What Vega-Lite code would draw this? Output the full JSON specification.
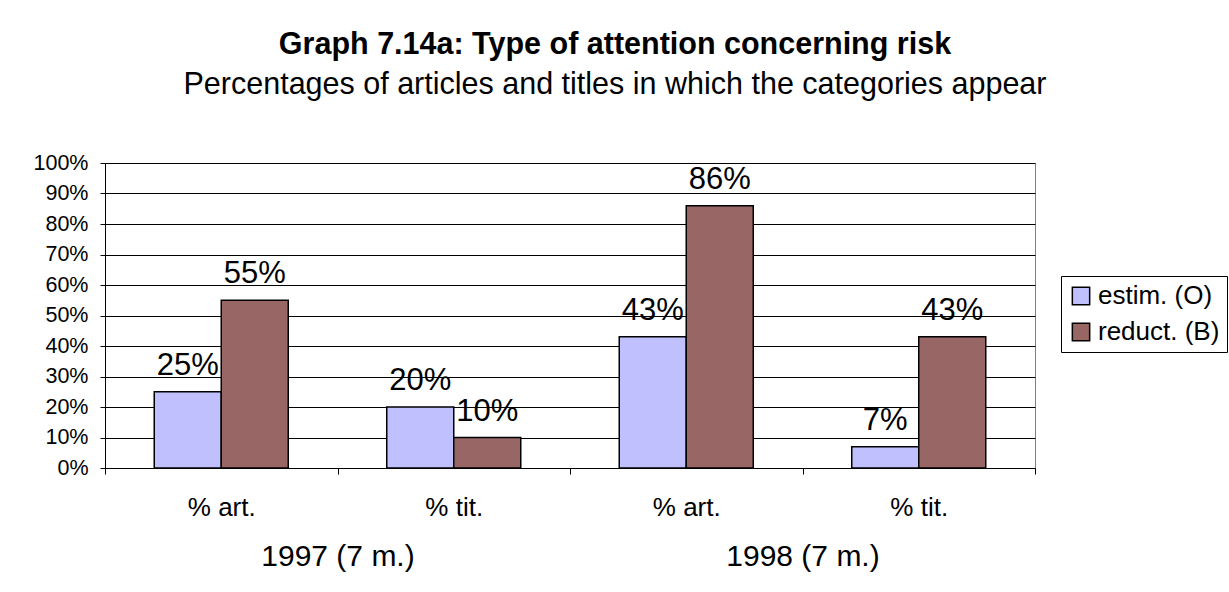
{
  "$schema": "https://vega.github.io/schema/vega-lite/v6.json",
  "autosize": {"type": "none"},
  "width": 930,
  "height": 305,
  "padding": {"left": 105, "top": 163, "right": 194, "bottom": 124},
  "background": "white",
  "title": {
    "text": "Graph 7.14a: Type of attention concerning risk",
    "subtitle": "Percentages of articles and titles in which the categories appear",
    "anchor": "middle",
    "frame": "group",
    "dx": 45,
    "offset": 52,
    "font": "Liberation Sans",
    "fontSize": 30.5,
    "fontWeight": "bold",
    "color": "#000",
    "subtitleFont": "Liberation Sans",
    "subtitleFontSize": 30.5,
    "subtitleColor": "#000",
    "subtitlePadding": 9
  },
  "data": {
    "values": [
      {"cat": "1997|% art.", "year": "1997 (7 m.)", "series": "estim. (O)", "value": 0.25},
      {"cat": "1997|% art.", "year": "1997 (7 m.)", "series": "reduct. (B)", "value": 0.55},
      {"cat": "1997|% tit.", "year": "1997 (7 m.)", "series": "estim. (O)", "value": 0.20},
      {"cat": "1997|% tit.", "year": "1997 (7 m.)", "series": "reduct. (B)", "value": 0.10},
      {"cat": "1998|% art.", "year": "1998 (7 m.)", "series": "estim. (O)", "value": 0.43},
      {"cat": "1998|% art.", "year": "1998 (7 m.)", "series": "reduct. (B)", "value": 0.86},
      {"cat": "1998|% tit.", "year": "1998 (7 m.)", "series": "estim. (O)", "value": 0.07},
      {"cat": "1998|% tit.", "year": "1998 (7 m.)", "series": "reduct. (B)", "value": 0.43}
    ]
  },
  "layer": [
    {
      "encoding": {
        "x": {
          "field": "cat",
          "type": "nominal",
          "sort": null,
          "scale": {"paddingInner": 0, "paddingOuter": 0},
          "axis": {
            "orient": "bottom",
            "title": null,
            "labelAngle": 0,
            "labelExpr": "split(datum.label, '|')[1]",
            "tickBand": "extent",
            "tickSize": 6,
            "tickColor": "#000",
            "domainColor": "#000",
            "labelPadding": 20,
            "labelFont": "Liberation Sans",
            "labelFontSize": 26,
            "labelColor": "#000",
            "grid": false
          }
        },
        "xOffset": {
          "field": "series",
          "type": "nominal",
          "scale": {"paddingInner": 0, "paddingOuter": 0.735}
        },
        "y": {
          "field": "value",
          "type": "quantitative",
          "scale": {"domain": [0, 1], "nice": false},
          "axis": {
            "title": null,
            "values": [0, 0.1, 0.2, 0.3, 0.4, 0.5, 0.6, 0.7, 0.8, 0.9, 1],
            "format": ".0%",
            "tickSize": 5,
            "tickColor": "#000",
            "domainColor": "#000",
            "labelPadding": 12,
            "labelFont": "Liberation Sans",
            "labelFontSize": 21.5,
            "labelColor": "#000",
            "grid": true,
            "gridColor": "#000",
            "gridWidth": 1
          }
        }
      },
      "layer": [
        {
          "mark": {"type": "bar", "stroke": "#000", "strokeWidth": 1.5},
          "encoding": {
            "color": {
              "field": "series",
              "type": "nominal",
              "scale": {"domain": ["estim. (O)", "reduct. (B)"], "range": ["#C0C0FF", "#996666"]},
              "legend": {
                "title": null,
                "orient": "none",
                "legendX": 956,
                "legendY": 113,
                "symbolType": "square",
                "symbolSize": 300,
                "symbolStrokeColor": "#000",
                "symbolStrokeWidth": 1.5,
                "symbolOpacity": 1,
                "labelFont": "Liberation Sans",
                "labelFontSize": 26,
                "labelColor": "#000",
                "labelOffset": 4,
                "rowPadding": 10,
                "padding": 7,
                "strokeColor": "#000",
                "fillColor": "white"
              }
            }
          }
        },
        {
          "mark": {"type": "text", "baseline": "alphabetic", "dy": -17, "font": "Liberation Sans", "fontSize": 31, "color": "#000"},
          "encoding": {
            "text": {"field": "value", "type": "quantitative", "format": ".0%"}
          }
        }
      ]
    },
    {
      "mark": {"type": "text", "opacity": 0},
      "encoding": {
        "x": {
          "field": "year",
          "type": "nominal",
          "scale": {"paddingInner": 0, "paddingOuter": 0},
          "axis": {
            "orient": "bottom",
            "title": null,
            "labelAngle": 0,
            "domain": false,
            "ticks": false,
            "tickSize": 0,
            "grid": false,
            "labelPadding": 73,
            "labelFont": "Liberation Sans",
            "labelFontSize": 30,
            "labelColor": "#000"
          }
        },
        "text": {"field": "year"}
      }
    }
  ],
  "resolve": {"scale": {"x": "independent"}, "axis": {"x": "independent"}},
  "config": {
    "view": {"stroke": "#808080", "strokeWidth": 1},
    "axis": {"labelFont": "Liberation Sans"}
  }
}
